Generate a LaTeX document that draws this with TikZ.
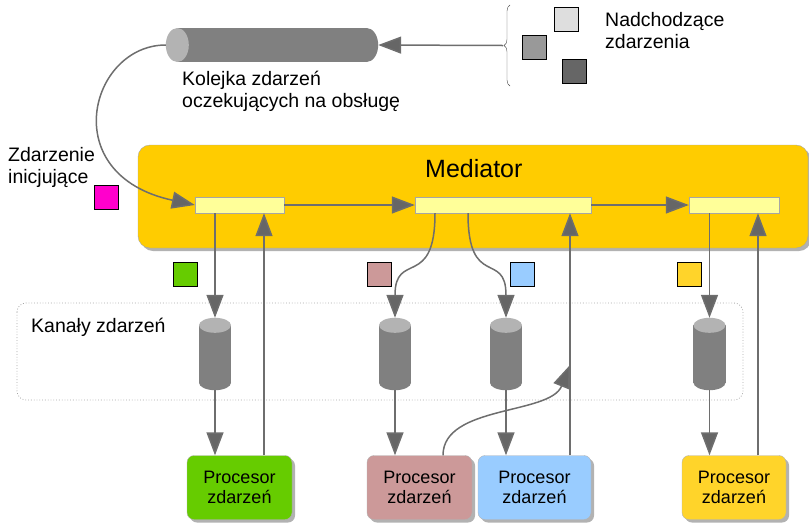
\documentclass[tikz,border=0pt]{standalone}
\usepackage{fontspec}
\setmainfont{Liberation Sans}
\usetikzlibrary{arrows.meta,shadows,decorations.pathreplacing}

\definecolor{linegray}{HTML}{6E6E6E}
\definecolor{tipgray}{HTML}{666666}
\definecolor{medyellow}{HTML}{FFCC00}
\definecolor{barfill}{HTML}{FFFF99}
\definecolor{cylbody}{HTML}{808080}
\definecolor{cylend}{HTML}{B3B3B3}
\definecolor{evmagenta}{HTML}{FF00CC}
\definecolor{evgreen}{HTML}{66CC00}
\definecolor{evpink}{HTML}{CC9999}
\definecolor{evblue}{HTML}{99CCFF}
\definecolor{evyellow}{HTML}{FFD42A}

\tikzset{
  arr/.style={draw=linegray, line width=1.5pt, -{Triangle[length=23pt,width=17pt,fill=tipgray]}},
  stepbar/.style={draw=black!35, fill=barfill, minimum height=16pt, inner sep=0pt},
  evbox/.style={draw=black, line width=0.8pt, minimum size=24pt, inner sep=0pt},
  chanbox/.style={minimum width=32pt, minimum height=72pt, inner sep=0pt},
  proc/.style={draw=black!30, rounded corners=7pt, minimum height=64pt, inner sep=0pt, align=center,
    font=\fontsize{18}{20}\selectfont, drop shadow={shadow xshift=3pt, shadow yshift=-3pt, fill=black!30, opacity=1}},
  lbl/.style={inner sep=0pt, align=left, anchor=base west, font=\fontsize{19.5}{22}\selectfont},
}

\begin{document}
\begin{tikzpicture}[x=1pt,y=-1pt]
  \useasboundingbox (0,0) rectangle (809,523);

  % incoming events and queue
  \node[minimum width=212pt, minimum height=34pt, inner sep=0pt] (queue) at (272,45) {};
  \fill[cylbody] ([xshift=11.5pt]queue.north west) rectangle ([xshift=-11.5pt]queue.south east);
  \fill[cylbody] ([xshift=-11.5pt]queue.east) ellipse [x radius=11.5pt, y radius=17pt];
  \fill[cylend] ([xshift=11.5pt]queue.west) ellipse [x radius=11.5pt, y radius=17pt];
  \node[lbl] (queuetext) at (182,107) {Kolejka zdarzeń\\oczekujących na obsługę};
  \node[evbox, fill=black!13] (inA) at (566.5,19.5) {};
  \node[evbox, fill=black!40] (inB) at (534.5,47.5) {};
  \node[evbox, fill=black!60] (inC) at (574.5,71.5) {};
  \node[lbl] (intext) at (605,48) {Nadchodzące\\zdarzenia};
  \draw[decorate, decoration={brace, amplitude=6pt}, draw=black!70] (510,86) -- (510,5);
  \coordinate (bracetip) at (503,45.5);
  \draw[arr] (bracetip) -- (queue.east);

  % mediator
  \node[draw=black!35, fill=medyellow, rounded corners=12pt, minimum width=670pt, minimum height=103pt,
        drop shadow={shadow xshift=3pt, shadow yshift=-3pt, fill=black!30, opacity=1}] (med) at (473,196.5) {};
  \node[inner sep=0pt, anchor=base west, font=\fontsize{25}{28}\selectfont] (medtitle) at (425,177) {Mediator};
  \node[stepbar, minimum width=89pt]  (b1) at (239.5,205) {};
  \node[stepbar, minimum width=176pt] (b2) at (503,205) {};
  \node[stepbar, minimum width=90pt]  (b3) at (734,205) {};

  \node[lbl] (inittext) at (8,183) {Zdarzenie\\inicjujące};
  \node[evbox, fill=evmagenta] (init) at (106.5,197) {};
  \draw[arr] (queue.west) .. controls (90,45) and (55,175) .. (b1.west);
  \draw[arr] (b1.east) -- (b2.west);
  \draw[arr] (b2.east) -- (b3.west);

  % channels
  \draw[black!35, dotted, line width=0.8pt, rounded corners=9pt] (17,303) rectangle (743,400);
  \node[lbl] (chantext) at (31,332) {Kanały zdarzeń};
  \foreach \n/\x in {c1/215, c2/395, c3/506, c4/709.5} {
    \node[chanbox] (\n) at (\x,354) {};
    \fill[cylbody] ([yshift=-7.5pt]\n.north west) rectangle ([yshift=7.5pt]\n.south east);
    \fill[cylbody] ([yshift=7.5pt]\n.south) ellipse [x radius=16pt, y radius=7.5pt];
    \fill[cylend] ([yshift=-7.5pt]\n.north) ellipse [x radius=16pt, y radius=7.5pt];
  }

  \node[evbox, fill=evgreen]  (e1) at (185.5,274) {};
  \node[evbox, fill=evpink]   (e2) at (379,274) {};
  \node[evbox, fill=evblue]   (e3) at (522.5,274) {};
  \node[evbox, fill=evyellow] (e4) at (689.5,274) {};

  % processors
  \node[proc, fill=evgreen,  minimum width=105pt] (p1) at (239.5,487.5) {Procesor\\zdarzeń};
  \node[proc, fill=evpink,   minimum width=105pt] (p2) at (419.5,487.5) {Procesor\\zdarzeń};
  \node[proc, fill=evblue,   minimum width=113pt] (p3) at (534.5,487.5) {Procesor\\zdarzeń};
  \node[proc, fill=evyellow, minimum width=104pt] (p4) at (734,487.5) {Procesor\\zdarzeń};

  \draw[arr] (c1 |- b1.south) -- (c1.north);
  \draw[arr] (c1.south) -- (c1 |- p1.north);
  \draw[arr] ([xshift=24.5pt]p1.north) -- ([xshift=24.5pt]p1.north |- b1.south);

  \draw[arr] ([xshift=-68pt]b2.south) .. controls (435,290) and (395,250) .. (c2.north);
  \draw[arr] ([xshift=-35pt]b2.south) .. controls (468,290) and (506,250) .. (c3.north);
  \draw[arr] (c2.south) -- (c2 |- p2.north);
  \draw[arr] (c3.south) -- (c3 |- p3.north);
  \draw[arr] ([xshift=67pt]b2.south |- p3.north) -- ([xshift=67pt]b2.south);
  \coordinate (merge) at (570,365);
  \draw[arr] ([xshift=23.5pt]p2.north) .. controls (443,405) and (550,415) .. (merge);

  \draw[arr] (c4 |- b3.south) -- (c4.north);
  \draw[arr] (c4.south) -- (c4 |- p4.north);
  \draw[arr] ([xshift=24pt]p4.north) -- ([xshift=24pt]p4.north |- b3.south);
\end{tikzpicture}
\end{document}
